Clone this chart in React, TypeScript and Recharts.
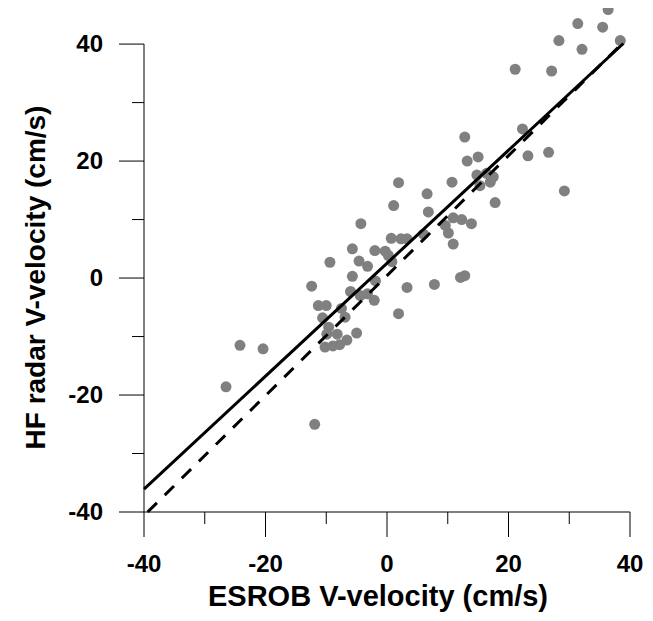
import { ScatterChart, Scatter, XAxis, YAxis, ReferenceLine, Label } from "recharts";

// ESROB (x) vs HF radar (y) V-velocity, cm/s
const esrobV = [
  36.4, 31.4, 35.5, 28.3, 38.4, 32.1, 21.1, 27.1, 22.3, 12.8, 23.2, 26.6, 13.2,
  15.0, 29.2, 1.9, 10.7, 14.8, 16.4, 17.5, 17.0, 15.3, 6.6, 1.1, 6.8, 17.8, 10.9,
  12.3, 13.9, 9.6, 10.1, 10.9, 6.0, 0.7, 2.3, 3.3, -4.3, -5.7, -2.0, -0.3, 0.2,
  -9.4, -4.6, -3.2, 0.8, -5.7, -12.4, -1.9, -6.0, -4.4, -3.2, -2.1, -11.3, -10.0,
  -7.5, -6.9, -10.6, -9.6, -9.9, -8.2, -6.6, -5.0, -10.2, -8.9, -7.8, 3.3, 7.8,
  12.8, 12.1, 1.9, -24.2, -20.4, -26.5, -11.9,
];
const radarV = [
  45.9, 43.5, 42.9, 40.6, 40.6, 39.1, 35.7, 35.4, 25.5, 24.1, 20.9, 21.5, 20.0,
  20.7, 14.9, 16.3, 16.4, 17.6, 17.9, 17.3, 16.4, 15.8, 14.4, 12.4, 11.3, 12.9,
  10.3, 10.0, 9.3, 9.0, 7.7, 5.8, 7.5, 6.8, 6.7, 6.7, 9.3, 5.0, 4.7, 4.6, 3.9,
  2.7, 2.9, 2.0, 2.8, 0.3, -1.4, -0.5, -2.3, -3.0, -2.7, -3.8, -4.7, -4.7, -5.2,
  -6.7, -6.8, -8.4, -9.6, -9.6, -10.6, -9.4, -11.8, -11.6, -11.4, -1.6, -1.1,
  0.4, 0.1, -6.1, -11.5, -12.1, -18.6, -25.0,
];

// regression line (solid) and 1:1 line (dashed), end points
const fitX = [-40, 38.9];
const fitY = [-36.1, 40.1];
const oneX = [-39.4, 38.6];
const oneY = [-40, 40];

const axisTicks = [-40, -30, -20, -10, 0, 10, 20, 30, 40];

const points = esrobV.map((x, i) => ({ x, y: radarV[i] }));
const fitLine = fitX.map((x, i) => ({ x, y: fitY[i] }));
const oneLine = oneX.map((x, i) => ({ x, y: oneY[i] }));

const font = {
  fontFamily: "'Liberation Sans', Arial, sans-serif",
  fontWeight: 700,
};

const XTick = (props: any) => {
  const { x, y, payload } = props;
  const major = payload.value % 20 === 0;
  return (
    <g>
      <line x1={x} y1={y} x2={x} y2={y + (major ? 25 : 12)} stroke="#000" />
      {major && (
        <text x={x} y={y + 52} textAnchor="middle" dy="0.35em" fontSize={24} fill="#000" {...font}>
          {payload.value}
        </text>
      )}
    </g>
  );
};

const YTick = (props: any) => {
  const { x, y, payload } = props;
  const major = payload.value % 20 === 0;
  return (
    <g>
      <line x1={x - (major ? 25 : 12)} y1={y} x2={x} y2={y} stroke="#000" />
      {major && (
        <text x={x - 41} y={y} textAnchor="end" dy="0.35em" fontSize={24} fill="#000" {...font}>
          {payload.value}
        </text>
      )}
    </g>
  );
};

const Dot = (props: any) => <circle cx={props.cx} cy={props.cy} r={5.5} fill="#808080" />;
const NoDot = () => <g />;

export default function App() {
  return (
    <div style={{ margin: "-8px 0" }}>
      <ScatterChart width={637} height={621} margin={{ top: 9, right: 15, left: 0, bottom: 0 }}>
        <XAxis
          type="number"
          dataKey="x"
          domain={[-40, 40]}
          ticks={axisTicks}
          interval={0}
          tickLine={false}
          tickSize={0}
          tickMargin={0}
          tick={<XTick />}
          axisLine={{ stroke: "#000" }}
          height={109}
        >
          <Label
            content={(p: any) => {
              const vb = p.viewBox;
              return (
                <text x={vb.x + vb.width / 2 - 9} y={vb.y + vb.height - 15} textAnchor="middle" fontSize={29} fill="#000" {...font}>
                  ESROB V-velocity (cm/s)
                </text>
              );
            }}
          />
        </XAxis>
        <YAxis
          type="number"
          dataKey="y"
          domain={[-40, 46]}
          ticks={axisTicks}
          interval={0}
          tickLine={false}
          tickSize={0}
          tickMargin={0}
          tick={<YTick />}
          axisLine={false}
          width={136}
        >
          <Label
            content={(p: any) => {
              const vb = p.viewBox;
              const cx = 27;
              const cy = vb.y + vb.height / 2 + 17;
              return (
                <text x={cx} y={cy} transform={`rotate(-90, ${cx}, ${cy})`} textAnchor="middle" dy="0.35em" fontSize={28} fill="#000" {...font}>
                  HF radar V-velocity (cm/s)
                </text>
              );
            }}
          />
        </YAxis>
        <ReferenceLine segment={[{ x: -40, y: -40 }, { x: -40, y: 40 }]} stroke="#000" />
        <Scatter data={points} shape={<Dot />} isAnimationActive={false} />
        <Scatter
          data={fitLine}
          line={{ stroke: "#000", strokeWidth: 3 }}
          shape={<NoDot />}
          isAnimationActive={false}
        />
        <Scatter
          data={oneLine}
          line={{ stroke: "#000", strokeWidth: 3, strokeDasharray: "13 11" }}
          shape={<NoDot />}
          isAnimationActive={false}
        />
      </ScatterChart>
    </div>
  );
}
